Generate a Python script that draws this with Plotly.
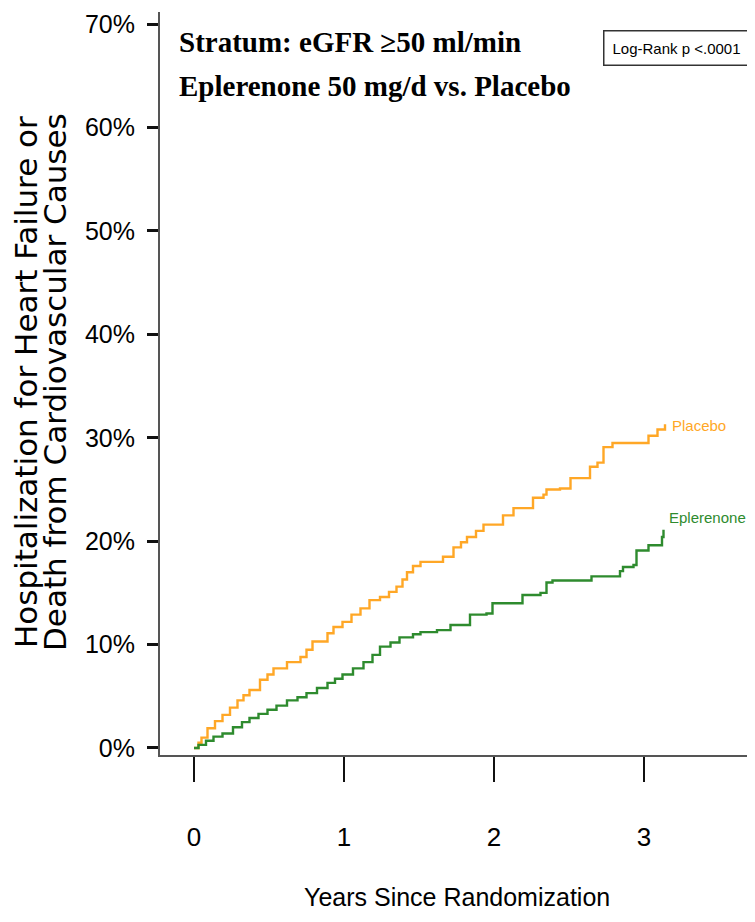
import plotly.graph_objects as go

# ---- data ----
placebo_t = [0, 0.03, 0.05, 0.09, 0.14, 0.19, 0.24, 0.29, 0.33, 0.37, 0.44, 0.49, 0.53, 0.62, 0.71,
             0.75, 0.79, 0.89, 0.93, 0.99, 1.05, 1.11, 1.17, 1.24, 1.30, 1.35, 1.39, 1.42, 1.46, 1.51,
             1.66, 1.73, 1.78, 1.82, 1.88, 1.93, 2.06, 2.13, 2.26, 2.33, 2.35, 2.44, 2.51, 2.64, 2.69,
             2.73, 2.79, 3.03, 3.09, 3.14]
placebo_v = [0, 0.5, 1.0, 1.9, 2.6, 3.2, 3.9, 4.6, 5.1, 5.6, 6.6, 7.1, 7.7, 8.3, 8.8,
             9.5, 10.3, 11.1, 11.7, 12.2, 12.9, 13.5, 14.3, 14.6, 15.1, 15.6, 16.3, 17.0, 17.6, 18.0,
             18.5, 19.4, 19.9, 20.4, 21.0, 21.6, 22.5, 23.2, 24.2, 24.5, 25.0, 25.1, 26.1, 27.2, 27.6,
             29.1, 29.5, 30.2, 30.8, 31.3]

epler_t = [0, 0.03, 0.08, 0.13, 0.19, 0.26, 0.32, 0.37, 0.43, 0.49, 0.55, 0.62, 0.69, 0.75, 0.82,
           0.89, 0.94, 0.99, 1.06, 1.13, 1.19, 1.24, 1.31, 1.37, 1.46, 1.51, 1.62, 1.71, 1.84, 1.95,
           1.99, 2.19, 2.31, 2.35, 2.39, 2.65, 2.84, 2.86, 2.93, 2.95, 3.03, 3.12, 3.13]
epler_v = [0, 0.3, 0.7, 1.1, 1.4, 2.0, 2.5, 2.9, 3.3, 3.7, 4.1, 4.6, 4.9, 5.3, 5.8,
           6.3, 6.7, 7.1, 7.7, 8.3, 9.0, 9.8, 10.2, 10.7, 11.0, 11.2, 11.4, 11.9, 12.9, 13.0,
           14.0, 14.8, 15.0, 16.0, 16.2, 16.6, 17.1, 17.5, 17.7, 19.1, 19.6, 20.4, 21.1]

x_ticks = [0, 1, 2, 3]
y_ticks = [0, 10, 20, 30, 40, 50, 60, 70]

series_names = ["Placebo", "Eplerenone"]
title_lines = ["Stratum: eGFR ≥50 ml/min", "Eplerenone 50 mg/d vs. Placebo"]
ytitle_lines = ["Hospitalization for Heart Failure or", "Death from Cardiovascular Causes"]
xtitle = "Years Since Randomization"
pvalue_text = "Log-Rank p <.0001"

ORANGE = "#FFA726"
GREEN = "#2E8B2E"
NARROW = "Liberation Sans Narrow, Liberation Sans, Arial, sans-serif"
SERIF = "Liberation Serif, Times New Roman, serif"
SANS = "DejaVu Sans, Verdana, sans-serif"

fig = go.Figure()
fig.add_trace(go.Scatter(x=placebo_t, y=placebo_v, mode="lines", line_shape="hv",
                         line=dict(color=ORANGE, width=2.4), name=series_names[0], showlegend=False))
fig.add_trace(go.Scatter(x=epler_t, y=epler_v, mode="lines", line_shape="hv",
                         line=dict(color=GREEN, width=2.4), name=series_names[1], showlegend=False))

# page body has an 8px margin: figure is drawn at (8, 8) on screen
OFF = 8
W, H = 755 - OFF, 922 - OFF
L, R, T, B = 160 - OFF, 0, 12 - OFF, 922 - 755
pw, ph = W - L - R, H - T - B


def px_x(sx):
    return (sx - OFF - L) / pw


def px_y(sy):
    return (H - B - (sy - OFF)) / ph


annotations = [
    dict(text="<b>%s</b>" % title_lines[0], xref="paper", yref="paper", x=px_x(177), y=px_y(42),
         xanchor="left", yanchor="middle", showarrow=False, font=dict(family=SERIF, size=29, color="black")),
    dict(text="<b>%s</b>" % title_lines[1], xref="paper", yref="paper", x=px_x(177), y=px_y(86),
         xanchor="left", yanchor="middle", showarrow=False, font=dict(family=SERIF, size=29, color="black")),
    dict(text=pvalue_text, xref="paper", yref="paper", x=px_x(676), y=px_y(48),
         xanchor="center", yanchor="middle", showarrow=False, bordercolor="#333", borderwidth=1.5,
         borderpad=8, bgcolor="white", font=dict(family=NARROW, size=15, color="black")),
    dict(text=ytitle_lines[0], xref="paper", yref="paper", x=px_x(26), y=px_y(382), textangle=-90,
         xanchor="center", yanchor="middle", showarrow=False, font=dict(family=SANS, size=31, color="black")),
    dict(text=ytitle_lines[1], xref="paper", yref="paper", x=px_x(55), y=px_y(382), textangle=-90,
         xanchor="center", yanchor="middle", showarrow=False, font=dict(family=SANS, size=31, color="black")),
    dict(text=xtitle, xref="paper", yref="paper", x=px_x(457), y=px_y(897),
         xanchor="center", yanchor="middle", showarrow=False, font=dict(family=NARROW, size=25, color="black")),
    dict(text=series_names[0], xref="x", yref="y", x=placebo_t[-1] + 0.035, y=placebo_v[-1] - 0.1,
         xanchor="left", yanchor="middle", showarrow=False, font=dict(family=NARROW, size=15, color=ORANGE)),
    dict(text=series_names[1], xref="x", yref="y", x=epler_t[-1] + 0.025, y=epler_v[-1] + 1.2,
         xanchor="left", yanchor="middle", showarrow=False, font=dict(family=NARROW, size=15, color=GREEN)),
]

fig.update_layout(
    width=W, height=H,
    margin=dict(l=L, r=R, t=T, b=B, pad=0),
    paper_bgcolor="white", plot_bgcolor="white",
    annotations=annotations,
    xaxis=dict(range=[-0.2267, 3.74], tickvals=x_ticks, ticktext=[str(v) for v in x_ticks],
               showgrid=False, zeroline=False, showline=True, linecolor="#555", linewidth=2,
               ticks="outside", ticklen=25, tickwidth=2, tickcolor="#111",
               ticklabelstandoff=33, tickfont=dict(family=NARROW, size=26, color="black")),
    yaxis=dict(range=[-0.68, 71.18], tickvals=y_ticks, ticktext=["%d%%" % v for v in y_ticks],
               showgrid=False, zeroline=False, showline=True, linecolor="#555", linewidth=2,
               ticks="outside", ticklen=11, tickwidth=2.5, tickcolor="#111",
               ticklabelstandoff=7, tickfont=dict(family=NARROW, size=25, color="black")),
)

fig.write_html("out.html")
